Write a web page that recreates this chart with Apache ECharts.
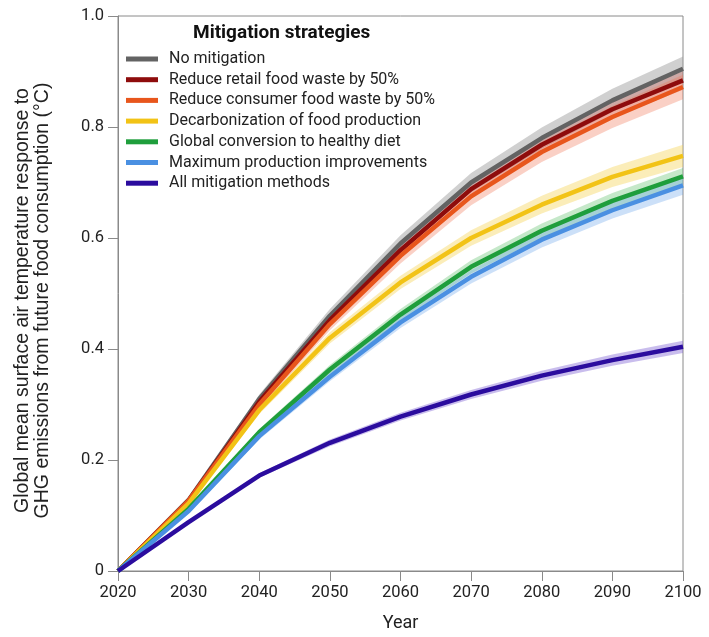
<!DOCTYPE html>
<html><head><meta charset="utf-8">
<script src="https://cdn.jsdelivr.net/npm/echarts@6/dist/echarts.min.js"></script>
<style>html,body{margin:0;padding:0;background:#fff}#c{width:709px;height:637px}</style>
</head><body><div id="c"></div>
<script>
const years = ['2020','2030','2040','2050','2060','2070','2080','2090','2100'];
const seriesNames = ['No mitigation','Reduce retail food waste by 50%','Reduce consumer food waste by 50%','Decarbonization of food production','Global conversion to healthy diet','Maximum production improvements','All mitigation methods'];
const noMitigation   = [0, 0.128, 0.31, 0.46, 0.59, 0.70, 0.78, 0.848, 0.905];
const retailWaste    = [0, 0.127, 0.305, 0.452, 0.578, 0.688, 0.768, 0.832, 0.884];
const consumerWaste  = [0, 0.127, 0.30, 0.445, 0.568, 0.675, 0.755, 0.818, 0.872];
const decarbonization= [0, 0.122, 0.29, 0.42, 0.52, 0.60, 0.66, 0.71, 0.748];
const healthyDiet    = [0, 0.112, 0.25, 0.363, 0.462, 0.548, 0.613, 0.667, 0.711];
const maxProduction  = [0, 0.108, 0.243, 0.35, 0.448, 0.53, 0.597, 0.65, 0.695];
const allMethods     = [0, 0.088, 0.172, 0.231, 0.278, 0.318, 0.352, 0.38, 0.404];
// uncertainty half-widths
const noMitigationBand    = [0, 0.004, 0.008, 0.012, 0.015, 0.017, 0.019, 0.021, 0.022];
const retailWasteBand     = [0, 0.003, 0.006, 0.009, 0.011, 0.013, 0.015, 0.016, 0.017];
const consumerWasteBand   = [0, 0.004, 0.008, 0.011, 0.014, 0.016, 0.018, 0.020, 0.022];
const decarbonizationBand = [0, 0.003, 0.007, 0.010, 0.012, 0.014, 0.016, 0.018, 0.020];
const healthyDietBand     = [0, 0.003, 0.006, 0.008, 0.010, 0.012, 0.013, 0.014, 0.015];
const maxProductionBand   = [0, 0.003, 0.006, 0.008, 0.010, 0.012, 0.014, 0.015, 0.017];
const allMethodsBand      = [0, 0.002, 0.004, 0.006, 0.007, 0.008, 0.009, 0.010, 0.011];
const legendTitle = 'Mitigation strategies';

const values = [noMitigation, retailWaste, consumerWaste, decarbonization, healthyDiet, maxProduction, allMethods];
const bands = [noMitigationBand, retailWasteBand, consumerWasteBand, decarbonizationBand, healthyDietBand, maxProductionBand, allMethodsBand];
const lineColors = ['#636363','#8e0c0c','#e8561c','#f2c316','#1f9e3c','#4a90e2','#2b0c9e'];
const bandColors = ['rgba(150,150,150,0.45)','rgba(200,80,70,0.30)','rgba(240,120,90,0.35)','rgba(246,210,80,0.40)','rgba(90,190,100,0.35)','rgba(110,165,235,0.35)','rgba(120,90,210,0.40)'];

const series = [];
values.forEach((v, i) => {
  const lo = v.map((x, k) => x - bands[i][k]);
  const diff = bands[i].map(b => 2 * b);
  series.push({type:'line', name:'band_lo_'+i, stack:'b'+i, data:lo, symbol:'none', silent:true,
    lineStyle:{opacity:0}, z:1});
  series.push({type:'line', name:'band_hi_'+i, stack:'b'+i, data:diff, symbol:'none', silent:true,
    lineStyle:{opacity:0}, areaStyle:{color:bandColors[i], opacity:1}, z:1});
});
values.forEach((v, i) => {
  series.push({type:'line', name:seriesNames[i], data:v, symbol:'none',
    lineStyle:{color:lineColors[i], width:4.5}, itemStyle:{color:lineColors[i]}, z:3});
});

const chart = echarts.init(document.getElementById('c'), null, {renderer:'canvas'});
chart.setOption({
  animation:false,
  backgroundColor:'#fff',
  grid:{left:118, right:26, top:16, bottom:66, show:true, borderColor:'#8a8a8a', borderWidth:1},
  graphic:[{type:'text', left:193, top:24, z:10,
    style:{text:legendTitle, font:'bold 19px Roboto', fill:'#111'}}],
  legend:{data:seriesNames, orient:'vertical', left:121, top:46, icon:'rect',
    itemWidth:32, itemHeight:5, itemGap:4.7,
    textStyle:{fontFamily:'Roboto', fontSize:16, lineHeight:16, color:'#222', padding:[0,0,0,6]}},
  xAxis:{type:'category', data:years, boundaryGap:false,
    name:'Year', nameLocation:'middle', nameGap:43,
    nameTextStyle:{fontFamily:'Roboto', fontSize:18, color:'#222'},
    axisLine:{lineStyle:{color:'#8a8a8a', width:1}},
    axisTick:{show:true, length:10, alignWithLabel:true, lineStyle:{color:'#8a8a8a'}},
    axisLabel:{fontFamily:'Roboto', fontSize:16.5, color:'#222', margin:13},
    splitLine:{show:false}},
  yAxis:{type:'value', min:0, max:1, interval:0.2,
    name:'Global mean surface air temperature response to\nGHG emissions from future food consumption (°C)',
    nameLocation:'middle', nameGap:65, nameRotate:90,
    nameTextStyle:{fontFamily:'Liberation Sans', fontSize:19.5, color:'#222', lineHeight:20, padding:[0,14,0,0]},
    axisLine:{show:true, lineStyle:{color:'#8a8a8a', width:1}},
    axisTick:{show:true, length:10, lineStyle:{color:'#8a8a8a'}},
    axisLabel:{fontFamily:'Roboto', fontSize:16.5, color:'#222', margin:14,
      formatter:v => v === 0 ? '0' : v.toFixed(1)},
    splitLine:{show:false}},
  series:series
});
</script></body></html>
